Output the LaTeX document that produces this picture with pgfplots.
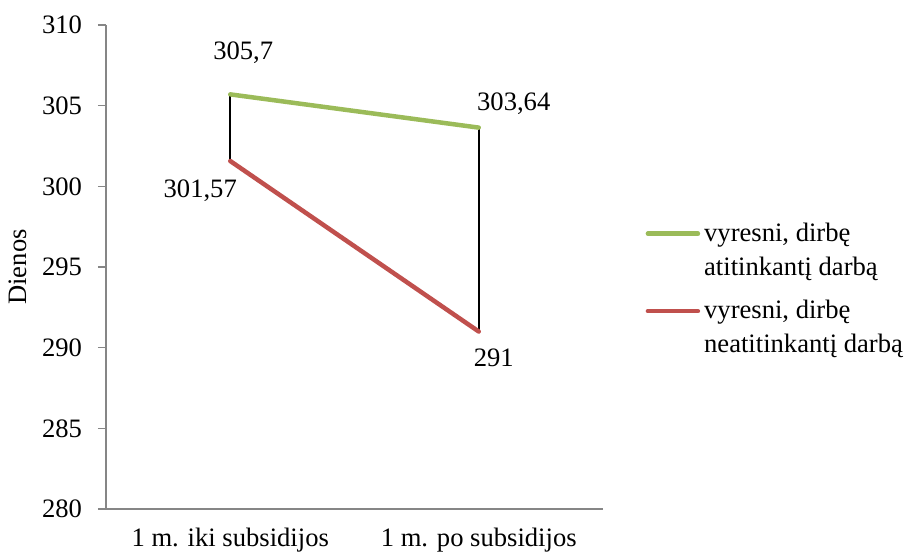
\documentclass[border=0pt]{standalone}
\usepackage{pgfplots}
\pgfplotsset{compat=1.18}
\usepackage{fontspec}
\setmainfont{Liberation Serif}
\definecolor{cgreen}{HTML}{9BBB59}
\definecolor{cred}{HTML}{C0504D}
\definecolor{axgray}{HTML}{868686}
\begin{document}
\begin{tikzpicture}[font=\fontsize{13.3}{17}\selectfont]
\begin{axis}[
  at={(0,0)}, anchor=south west,
  scale only axis, width=248.5pt, height=242pt,
  xmin=-0.5, xmax=1.5, ymin=280, ymax=310,
  ytick={280,285,...,310},
  xtick={0,1}, xticklabels={1 m. iki subsidijos, 1 m. po subsidijos},
  axis x line*=bottom, axis y line*=left,
  axis line style={axgray, line width=0.8pt},
  x tick style={draw=none},
  y tick style={axgray, line width=0.8pt},
  tick align=outside, major tick length=4pt,
  yticklabel style={xshift=-4.5pt},
  xticklabel style={yshift=-2pt},
  /pgf/number format/assume math mode=true,
  ylabel={Dienos},
  ylabel style={at={(axis description cs:-0.177,0.5)}, anchor=center},
  legend style={draw=none, fill=none, inner sep=0pt, at={(axis description cs:1.085,0.6)}, anchor=north west,
    cells={align=left, anchor=west, inner sep=0.5pt}, row sep=7pt, font=\fontsize{13.3}{17}\selectfont},
  legend cell align=left,
  legend image code/.code={\draw[#1] (0pt,8.5pt) -- (25pt,8.5pt);},
  clip=false,
]
\addplot[black, line width=0.75pt, forget plot] coordinates {(0,305.7) (0,301.57)};
\addplot[black, line width=0.75pt, forget plot] coordinates {(1,303.64) (1,291)};
\addplot[cgreen, line width=2.25pt, line cap=round] coordinates {(0,305.7) (1,303.64)};
\addlegendentry{vyresni, dirbę\\atitinkantį darbą}
\addplot[cred, line width=2.25pt, line cap=round] coordinates {(0,301.57) (1,291)};
\addlegendentry{vyresni, dirbę\\neatitinkantį darbą}
\node at (axis cs:0,305.7) [xshift=6.5pt, yshift=21pt] {305,7};
\node at (axis cs:1,303.64) [xshift=17.5pt, yshift=12pt] {303,64};
\node at (axis cs:0,301.57) [xshift=-15pt, yshift=-15pt] {301,57};
\node at (axis cs:1,291) [xshift=7.5pt, yshift=-13pt] {291};
\end{axis}
\pgfresetboundingbox
\useasboundingbox (-53pt,-21.5pt) rectangle (399pt,254.5pt);
\end{tikzpicture}
\end{document}
